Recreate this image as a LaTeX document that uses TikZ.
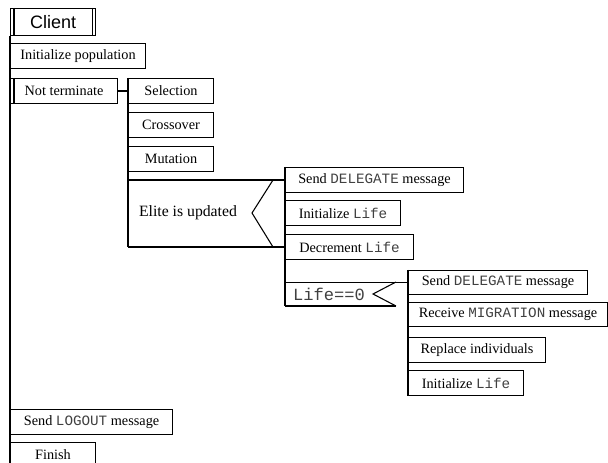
\documentclass[tikz,border=0pt]{standalone}
\usepackage{fontspec}
\setmainfont{Liberation Serif}
\setsansfont{Liberation Sans}
\setmonofont{Liberation Mono}
\newcommand{\kw}[1]{{\ttfamily\color{black!75}#1}}
\tikzset{every picture/.style={line width=0.8pt}}
\tikzset{
  padbox/.style={draw, anchor=north west, inner sep=0pt, minimum height=18.75pt, font=\fontsize{10.7}{12}\selectfont},
  padtext/.style={inner sep=0pt, font=\fontsize{11.8}{13}\selectfont}
}

\begin{document}
\begin{tikzpicture}[x=0.75pt,y=0.75pt,yscale=-1,xscale=1]
\useasboundingbox (0,0) rectangle (608,463);

%Boxes: main sequence
\node [padbox, minimum width=63.75pt, minimum height=20.25pt, font=\sffamily\fontsize{13.5}{15}\selectfont] (client) at (10,8) {Client};
\node [padbox, minimum width=101.25pt] (initpop) at (10,43) {Initialize population};
\node [padbox, minimum width=80.25pt] (notterm) at (10,78) {Not terminate};
\node [padbox, minimum width=121.5pt] (logout) at (10,409) {Send \kw{LOGOUT} message};
\node [padbox, minimum width=63.75pt] (finish) at (10,442) {Finish};
\coordinate (bottom) at (10,463);

%Boxes: loop body
\node [padbox, minimum width=63.75pt] (select) at (128,78) {Selection};
\node [padbox, minimum width=63.75pt] (cross) at (128,112) {Crossover};
\node [padbox, minimum width=63.75pt] (mut) at (128,146) {Mutation};

%Boxes: elite branches
\node [padbox, minimum width=133.5pt] (send1) at (285,167) {Send \kw{DELEGATE} message};
\node [padbox, minimum width=86.25pt] (init1) at (285,200) {Initialize \kw{Life}};
\node [padbox, minimum width=96pt] (dec) at (285,234) {Decrement \kw{Life}};

%Boxes: Life==0 branch
\node [padbox, minimum width=134.25pt, minimum height=18pt] (send2) at (408,270) {Send \kw{DELEGATE} message};
\node [padbox, minimum width=149.25pt, minimum height=18pt] (recv) at (408,302) {Receive \kw{MIGRATION} message};
\node [padbox, minimum width=102.75pt] (repl) at (408,337) {Replace individuals};
\node [padbox, minimum width=86.25pt] (init2) at (408,370) {Initialize \kw{Life}};

%Double side lines
\draw ([xshift=3pt]client.north west) -- ([xshift=3pt]client.south west);
\draw ([xshift=-3pt]client.north east) -- ([xshift=-3pt]client.south east);
\draw ([xshift=3pt]notterm.north west) -- ([xshift=3pt]notterm.south west);

%Sequence lines
\draw (client.south west) -- (bottom);
\draw (notterm.east) -- (select.west);
\coordinate (eliteNW) at (select.west |- send1.west);
\coordinate (eliteSW) at (select.west |- dec.west);
\draw (select.north west) -- (eliteSW);

%Shape: selection Elite is updated
\node [padtext] (elite) at (188,213) {Elite is updated};
\draw (eliteNW) -- (send1.west);
\draw (eliteSW) -- (dec.west);
\draw ([xshift=-9pt]send1.west) -- (252,213) -- ([xshift=-9pt]dec.west);

%Shape: selection Life==0
\node [padtext, font=\fontsize{12.8}{14}\selectfont] (lifezero) at (329,294) {\kw{Life==0}};
\coordinate (lifeNW) at (dec.west |- send2.west);
\coordinate (lifeSW) at (285,306);
\draw (send1.north west) -- (lifeSW);
\draw (lifeNW) -- (send2.west);
\draw (lifeSW) -- (396,306);
\draw (396,282) -- (373,294) -- (396,306);
\draw (send2.north west) -- (init2.south west);

\end{tikzpicture}
\end{document}
